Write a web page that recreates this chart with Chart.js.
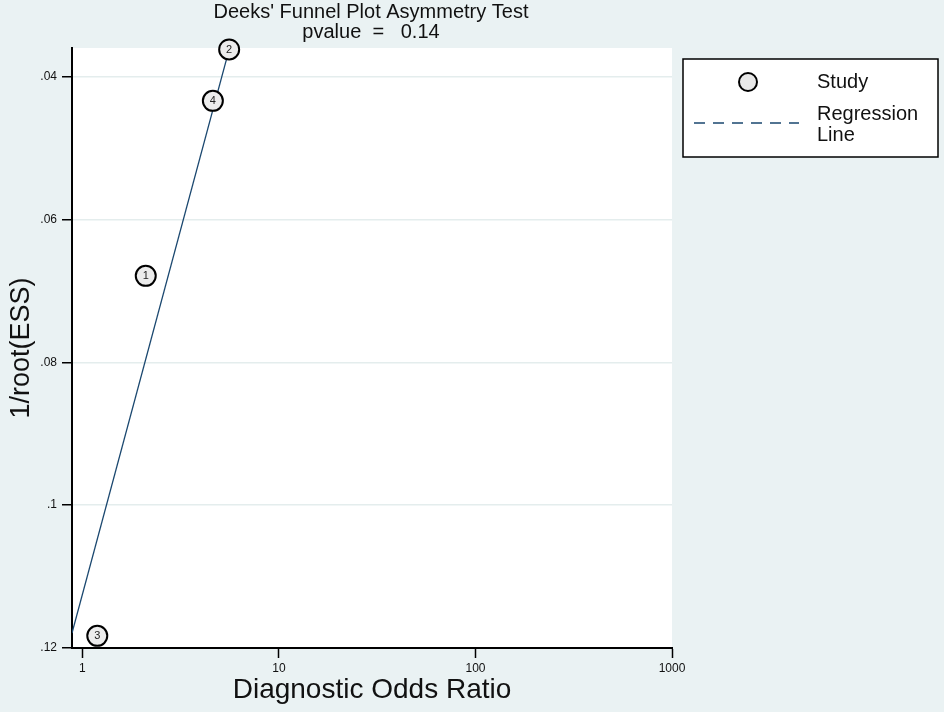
<!DOCTYPE html>
<html>
<head>
<meta charset="utf-8">
<script src="https://cdn.jsdelivr.net/npm/chart.js@4.4.1/dist/chart.umd.min.js"></script>
<style>
    html, body { margin: 0; padding: 0; background: #eaf2f3; }
    canvas { display: block; }
</style>
</head>
<body>
<canvas id="deeks" width="944" height="712"></canvas>
<script>
// values
const studyIds = ['1', '2', '3', '4'];
const studyDor = [2.10, 5.58, 1.19, 4.61];
const studyInvRootEss = [0.0679, 0.0362, 0.1183, 0.0434];

const regressionDor = [0.885, 5.58];
const regressionInvRootEss = [0.1179, 0.0362];

const xTicks = [1, 10, 100, 1000];
const yTicks = [0.04, 0.06, 0.08, 0.1, 0.12];
const yTickLabels = ['.04', '.06', '.08', '.1', '.12'];

const titleLines = ["Deeks' Funnel Plot Asymmetry Test", 'pvalue  =   0.14'];

const FONT = "'Liberation Sans', Arial, sans-serif";
const BG = '#eaf2f3';
const NAVY = '#1a476f';

const backdrop = {
    id: 'backdrop',
    beforeDraw(chart) {
        const { ctx, chartArea: a } = chart;
        ctx.save();
        ctx.fillStyle = BG;
        ctx.fillRect(0, 0, chart.width, chart.height);
        ctx.fillStyle = '#fff';
        ctx.fillRect(a.left, a.top, a.right - a.left, a.bottom - a.top);
        ctx.restore();
    },
};

const studyLabels = {
    id: 'studyLabels',
    afterDatasetsDraw(chart) {
        const { ctx } = chart;
        const meta = chart.getDatasetMeta(0);
        ctx.save();
        ctx.font = '11px ' + FONT;
        ctx.fillStyle = '#222';
        ctx.textAlign = 'center';
        ctx.textBaseline = 'middle';
        meta.data.forEach((pt, i) => ctx.fillText(studyIds[i], pt.x, pt.y + 0.5));
        ctx.restore();
    },
};

const headerAndKey = {
    id: 'headerAndKey',
    afterDraw(chart) {
        const { ctx, chartArea: a } = chart;
        const cx = (a.left + a.right) / 2;
        ctx.save();
        ctx.fillStyle = '#111';
        ctx.font = '20px ' + FONT;
        ctx.textAlign = 'center';
        ctx.textBaseline = 'middle';
        ctx.fillText(titleLines[0], cx - 1, 12);
        ctx.fillText(titleLines[1], cx - 1, 32);

        // legend box
        ctx.fillStyle = '#fff';
        ctx.fillRect(683, 59, 255, 98);
        ctx.strokeStyle = '#000';
        ctx.lineWidth = 1.5;
        ctx.strokeRect(683, 59, 255, 98);

        ctx.beginPath();
        ctx.arc(748, 82, 9, 0, Math.PI * 2);
        ctx.fillStyle = '#e8e8e8';
        ctx.fill();
        ctx.lineWidth = 2;
        ctx.stroke();

        ctx.beginPath();
        ctx.setLineDash([11, 8]);
        ctx.strokeStyle = NAVY;
        ctx.lineWidth = 1.3;
        ctx.moveTo(694, 123);
        ctx.lineTo(799, 123);
        ctx.stroke();
        ctx.setLineDash([]);

        ctx.fillStyle = '#111';
        ctx.font = '20px ' + FONT;
        ctx.textAlign = 'left';
        ctx.fillText('Study', 817, 82);
        ctx.fillText('Regression', 817, 114);
        ctx.fillText('Line', 817, 135);
        ctx.restore();
    },
};

new Chart(document.getElementById('deeks'), {
    type: 'scatter',
    data: {
        datasets: [
            {
                label: 'Study',
                data: studyDor.map((x, i) => ({ x, y: studyInvRootEss[i] })),
                pointRadius: 10,
                pointHoverRadius: 10,
                pointBackgroundColor: '#ececec',
                pointBorderColor: '#000',
                pointBorderWidth: 2,
                clip: false,
                order: 0,
            },
            {
                label: 'Regression Line',
                type: 'line',
                data: regressionDor.map((x, i) => ({ x, y: regressionInvRootEss[i] })),
                borderColor: NAVY,
                borderWidth: 1.3,
                pointRadius: 0,
                fill: false,
                order: 1,
            },
        ],
    },
    options: {
        responsive: false,
        animation: false,
        devicePixelRatio: 1,
        layout: { padding: { top: 48, right: 272, left: 0, bottom: 0 } },
        plugins: {
            legend: { display: false },
            title: { display: false },
            tooltip: { enabled: false },
        },
        scales: {
            x: {
                type: 'logarithmic',
                min: 0.885,
                max: 1000,
                afterBuildTicks: (scale) => { scale.ticks = xTicks.map((v) => ({ value: v })); },
                afterFit: (scale) => { scale.height = 64; },
                ticks: {
                    callback: (v) => String(v),
                    font: { family: FONT, size: 12 },
                    color: '#111',
                    padding: 3,
                    maxRotation: 0,
                },
                grid: { drawOnChartArea: false, tickLength: 10, tickColor: '#000', tickWidth: 1.5 },
                border: { display: true, color: '#000', width: 2 },
                title: {
                    display: true,
                    text: 'Diagnostic Odds Ratio',
                    font: { family: FONT, size: 28 },
                    color: '#111',
                    padding: { top: 0, bottom: 5 },
                },
            },
            y: {
                reverse: true,
                min: 0.036,
                max: 0.12,
                afterBuildTicks: (scale) => { scale.ticks = yTicks.map((v) => ({ value: v })); },
                afterFit: (scale) => { scale.width = 72; },
                ticks: {
                    callback: (v) => yTickLabels[yTicks.indexOf(v)],
                    font: { family: FONT, size: 12 },
                    color: '#111',
                    padding: 5,
                },
                grid: {
                    color: '#e4eded',
                    lineWidth: 1.5,
                    tickLength: 10,
                    tickColor: '#000',
                    tickWidth: 1.5,
                },
                border: { display: true, color: '#000', width: 2 },
                title: {
                    display: true,
                    text: '1/root(ESS)',
                    font: { family: FONT, size: 27 },
                    color: '#111',
                    padding: { top: 5, bottom: 0 },
                },
            },
        },
    },
    plugins: [backdrop, studyLabels, headerAndKey],
});
</script>
</body>
</html>
